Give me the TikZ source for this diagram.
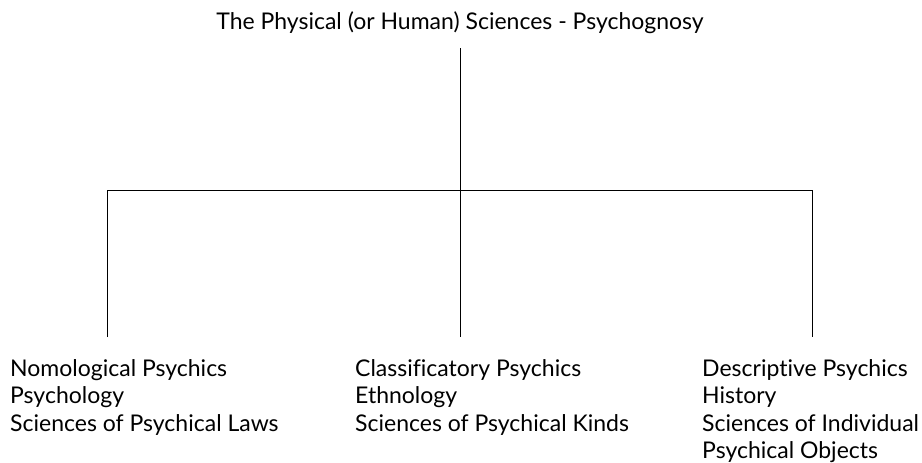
\documentclass[tikz,border=0pt]{standalone}
\usepackage{fontspec}
\setmainfont{Lato}[Ligatures=NoCommon]
\begin{document}
\begin{tikzpicture}[x=1pt,y=-1pt,
  txt/.style={inner sep=0pt, font=\fontsize{23}{27.5}\selectfont},
  block/.style={txt, anchor=north west, align=left},
  link/.style={draw=black, line width=0.9pt}]
\useasboundingbox (0,0) rectangle (922,463);
\node[txt, anchor=base] (title) at (460,29) {The Physical (or Human) Sciences - Psychognosy};
\coordinate (topend) at (460,48);
\coordinate (hub) at (460,190);
\coordinate (dl) at (107,337);
\coordinate (dm) at (460,337);
\coordinate (dr) at (812,337);
\node[block] (nom) at (10,359) {Nomological Psychics\\Psychology\\Sciences of Psychical Laws};
\node[block] (cla) at (355,359) {Classificatory Psychics\\Ethnology\\Sciences of Psychical Kinds};
\node[block] (des) at (702,359) {Descriptive Psychics\\History\\Sciences of Individual\\Psychical Objects};
\draw[link] (topend) -- (hub);
\draw[link] (dl) -- (dl |- hub) -- (dr |- hub) -- (dr);
\draw[link] (hub) -- (dm);
\end{tikzpicture}
\end{document}
